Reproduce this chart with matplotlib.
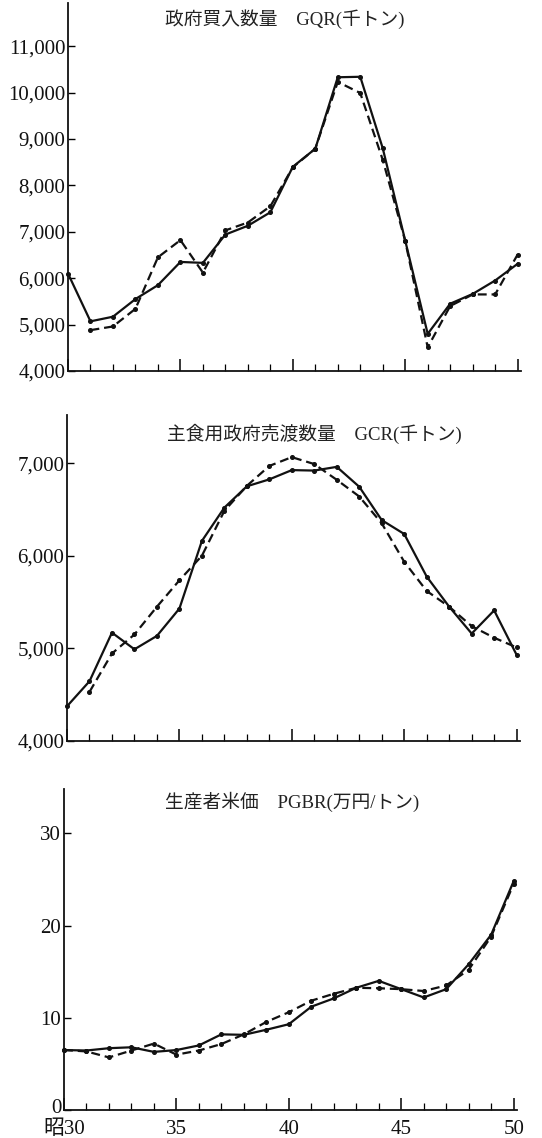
import matplotlib
matplotlib.use("Agg")
import matplotlib.pyplot as plt
import matplotlib.transforms as mtransforms
import numpy as np

years = list(range(30, 51))

gqr_actual = [6100, 5070, 5170, 5550, 5850, 6350, 6330, 6940, 7130, 7420, 8400,
              8790, 10330, 10340, 8800, 6810, 4800, 5450, 5660, 5950, 6310]
gqr_est = [None, 4880, 4960, 5340, 6450, 6820, 6120, 7030, 7200, 7550, 8390,
           8790, 10230, 9990, 8550, 6800, 4510, 5400, 5650, 5650, 6510]

gcr_actual = [4375, 4645, 5170, 4990, 5135, 5430, 6160, 6520, 6750, 6825, 6925,
              6920, 6960, 6745, 6385, 6235, 5775, 5450, 5160, 5410, 4930]
gcr_est = [None, 4530, 4945, 5150, 5450, 5735, 6000, 6485, 6755, 6970, 7065,
           6990, 6820, 6640, 6350, 5935, 5620, 5450, 5240, 5115, 5010]

pgbr_actual = [6.5, 6.45, 6.7, 6.8, 6.3, 6.5, 7.0, 8.2, 8.15, 8.7, 9.3,
               11.2, 12.1, 13.25, 14.0, 13.1, 12.2, 13.1, 15.8, 19.0, 24.8]
pgbr_est = [6.5, 6.35, 5.7, 6.45, 7.2, 6.0, 6.45, 7.15, 8.2, 9.55, 10.6,
            11.85, 12.6, 13.25, 13.2, 13.1, 12.9, 13.5, 15.2, 18.8, 24.5]

titles = ["政府買入数量　GQR(千トン)",
          "主食用政府売渡数量　GCR(千トン)",
          "生産者米価　PGBR(万円/トン)"]
xtick_pos = [30, 35, 40, 45, 50]
xtick_labels = ["昭30", "35", "40", "45", "50"]

FAM = ["Liberation Serif", "Noto Sans CJK JP"]
plt.rcParams['font.family'] = FAM

fig = plt.figure(figsize=(5.42, 11.38), dpi=100)

W, H = 542, 1138
def ax_rect(left, right, top, bottom):
    return [left / W, 1 - bottom / H, (right - left) / W, (bottom - top) / H]

panels = [
    dict(rect=ax_rect(68, 521, 3, 371), act=gqr_actual, est=gqr_est,
         ylim=(4000, 11930), yticks=[4000, 5000, 6000, 7000, 8000, 9000, 10000, 11000],
         fmt=lambda v: f"{v:,}", title_xy=(285, 19)),
    dict(rect=ax_rect(67, 520, 415, 741), act=gcr_actual, est=gcr_est,
         ylim=(4000, 7520), yticks=[4000, 5000, 6000, 7000],
         fmt=lambda v: f"{v:,}", title_xy=(314, 434)),
    dict(rect=ax_rect(64, 517, 789, 1110), act=pgbr_actual, est=pgbr_est,
         ylim=(0, 34.8), yticks=[0, 10, 20, 30],
         fmt=lambda v: f"{v}", title_xy=(292, 802)),
]

for i, p in enumerate(panels):
    ax = fig.add_axes(p["rect"])
    ax.set_facecolor("white")
    act = np.array(p["act"], dtype=float)
    est = np.array([np.nan if v is None else v for v in p["est"]], dtype=float)
    ax.plot(years, act, color="#111111", lw=1.6, ls="-", marker="o", ms=2.6,
            clip_on=False, zorder=3)
    ax.plot(years, est, color="#111111", lw=1.6, ls=(0, (4, 2.2)), marker="o",
            ms=2.6, clip_on=False, zorder=3)
    ax.set_xlim(30, 50.15)
    ax.set_ylim(*p["ylim"])
    for s in ["top", "right"]:
        ax.spines[s].set_visible(False)
    for s in ["left", "bottom"]:
        ax.spines[s].set_linewidth(1.3)
        ax.spines[s].set_color("#111111")
    ax.set_yticks(p["yticks"])
    ax.set_yticklabels([p["fmt"](v) for v in p["yticks"]], fontsize=15,
                       family=FAM, color="#111111")
    ax.tick_params(axis="y", direction="in", length=5, width=1, pad=2)
    ax.set_xticks(years, minor=True)
    ax.set_xticks(xtick_pos)
    ax.tick_params(axis="x", which="minor", direction="in", length=5, width=0.9)
    ax.tick_params(axis="x", which="major", direction="in", length=9, width=1.1)
    if i == 2:
        ax.set_xticklabels(xtick_labels, fontsize=15, family=FAM, color="#111111")
        ax.tick_params(axis="x", which="major", pad=7)
        lab0 = ax.get_yticklabels()[0]
        lab0.set_transform(lab0.get_transform() +
                           mtransforms.ScaledTranslation(0, 4 / 100, fig.dpi_scale_trans))
    else:
        ax.set_xticklabels([])
    tx, ty = p["title_xy"]
    fig.text(tx / W, 1 - ty / H, titles[i],
             ha="center", va="center", fontsize=13.5, family=FAM, color="#222222")

fig.savefig("out.png", dpi=100, facecolor="white")
